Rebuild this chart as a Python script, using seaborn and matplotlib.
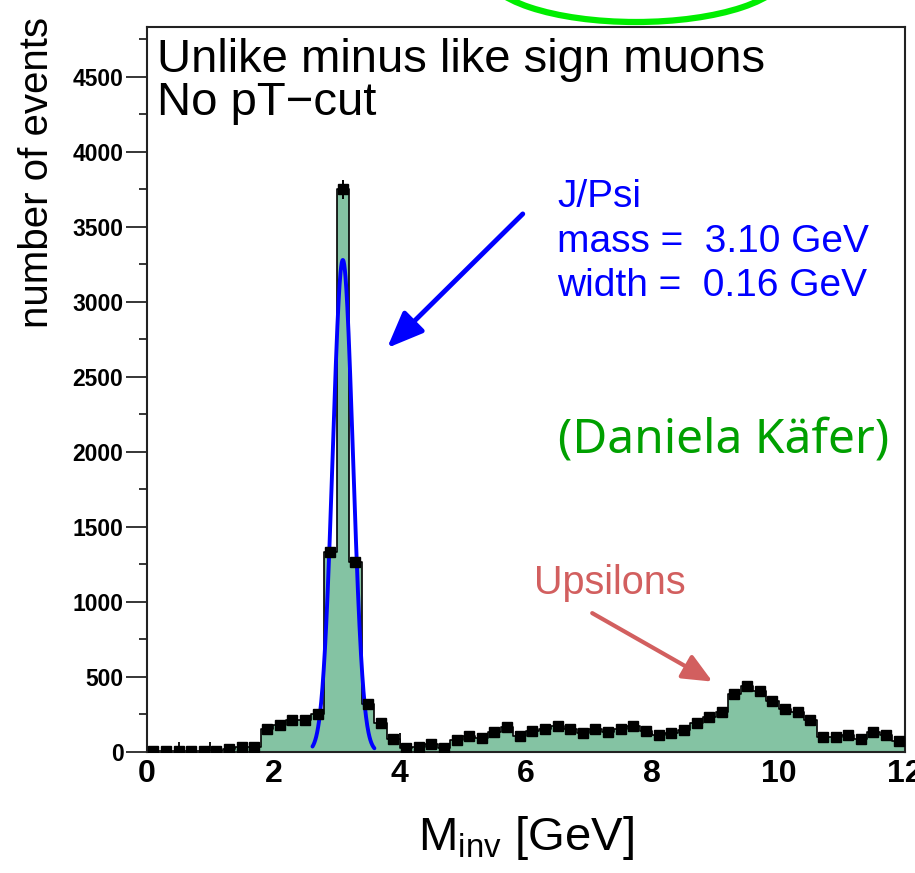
import numpy as np
import pandas as pd
import matplotlib
matplotlib.use("Agg")
import matplotlib.pyplot as plt
from matplotlib.patches import Ellipse
from matplotlib.ticker import MultipleLocator
import seaborn as sns


# unlike minus like sign dimuon mass spectrum, 0.2 GeV bins from 0 to 12 GeV
bin_width = 0.2
mass_range = (0.0, 12.0)
counts = [5, 5, 5, 5, 5, 5, 22, 31, 31, 151,
          180, 213, 213, 253, 1330, 3750, 1265, 318, 191, 84,
          29, 36, 53, 29, 80, 107, 91, 136, 164, 107,
          142, 151, 173, 151, 124, 151, 136, 151, 173, 142,
          113, 129, 147, 191, 231, 269, 387, 440, 409, 342,
          289, 269, 213, 102, 102, 113, 84, 136, 113, 76]

# gaussian fit of the J/Psi peak
jpsi_mass = 3.10
jpsi_width = 0.16
jpsi_amp = 3280
fit_range = (2.62, 3.6)

x_ticks = [0, 2, 4, 6, 8, 10, 12]
y_ticks = [0, 500, 1000, 1500, 2000, 2500, 3000, 3500, 4000, 4500]

fill_col = "#84c3a3"
blue = "#0000ff"
ups_col = "#d25f5f"
name_col = "#00a000"

sns.set_style("ticks")
plt.rcParams["font.family"] = ["Liberation Sans", "DejaVu Sans"]
plt.rcParams["mathtext.fontset"] = "custom"
plt.rcParams["mathtext.rm"] = "Liberation Sans"
for key in ["text.color", "axes.labelcolor", "xtick.color", "ytick.color"]:
    plt.rcParams[key] = "black"

centers = mass_range[0] + bin_width * (np.arange(len(counts)) + 0.5)
df = pd.DataFrame({"mass": centers, "n": counts})

fig = plt.figure(figsize=(9.15, 8.73), dpi=100)
ax = fig.add_axes([147 / 915, 121 / 873, 758 / 915, 725 / 873])

sns.histplot(data=df, x="mass", weights="n", binwidth=bin_width,
             binrange=mass_range, element="step", fill=True, color=fill_col,
             alpha=1, edgecolor="black", linewidth=1.2, ax=ax, zorder=2)
ax.errorbar(df["mass"], df["n"], yerr=np.sqrt(df["n"]), fmt="s", color="black",
            ms=7.5, elinewidth=1.4, capsize=0, zorder=4)

xf = np.linspace(fit_range[0], fit_range[1], 200)
yf = jpsi_amp * np.exp(-0.5 * ((xf - jpsi_mass) / jpsi_width) ** 2)
ax.plot(xf, yf, color=blue, lw=2.8, zorder=3)

ax.set_xlim(0, 12)
ax.set_ylim(0, 4833)
ax.set_xticks(x_ticks)
ax.set_yticks(y_ticks)
ax.xaxis.set_minor_locator(MultipleLocator(0.5))
ax.yaxis.set_minor_locator(MultipleLocator(250))
ax.tick_params(axis="x", which="major", direction="in", length=14, width=1.3,
               labelsize=23, pad=5)
ax.tick_params(axis="x", which="minor", direction="in", length=7, width=1.3)
ax.tick_params(axis="y", which="major", direction="out", length=15, width=1.1,
               labelsize=16.5, pad=2)
ax.tick_params(axis="y", which="minor", direction="out", length=6, width=1.1)
for lab in ax.get_xticklabels() + ax.get_yticklabels():
    lab.set_fontweight("bold")
for sp in ax.spines.values():
    sp.set_visible(True)
    sp.set_linewidth(1.5)
    sp.set_color("#222222")

ax.set_xlabel(r"M$_{\mathrm{inv}}$ [GeV]", fontsize=34)
ax.xaxis.set_label_coords(0.5, -0.085)
ax.set_ylabel("number of events", fontsize=29)
ax.yaxis.set_label_coords(-0.12, 0.8)

ax.text(0.013, 0.985, "Unlike minus like sign muons\nNo pT\u2212cut",
        transform=ax.transAxes, fontsize=34, va="top", ha="left",
        linespacing=0.98)

ax.text(0.541, 0.79, "J/Psi\nmass =  3.10 GeV\nwidth =  0.16 GeV",
        transform=ax.transAxes, fontsize=28, color=blue, va="top",
        ha="left", linespacing=1.3)
ax.annotate("", xy=(3.77, 2680), xytext=(5.98, 3600),
            arrowprops=dict(arrowstyle="-|>,head_length=2.2,head_width=0.9",
                            color=blue, lw=3.5))

ax.text(0.511, 0.233, "Upsilons", transform=ax.transAxes, fontsize=28.5,
        color=ups_col, va="center", ha="left")
ax.annotate("", xy=(8.99, 460), xytext=(7.01, 935),
            arrowprops=dict(arrowstyle="-|>,head_length=1.8,head_width=0.8",
                            color=ups_col, lw=3))

ax.text(0.542, 0.43, "(Daniela K\u00e4fer)", transform=ax.transAxes,
        fontsize=34.5, color=name_col, va="center", ha="left",
        family=["Noto Sans", "DejaVu Sans"])

fig.patches.append(Ellipse((636 / 915, 1 + 28 / 873), 300 / 915, 100 / 873,
                           transform=fig.transFigure, fill=False,
                           edgecolor="#00ee00", lw=4.5))

fig.savefig("out.png", dpi=100)
